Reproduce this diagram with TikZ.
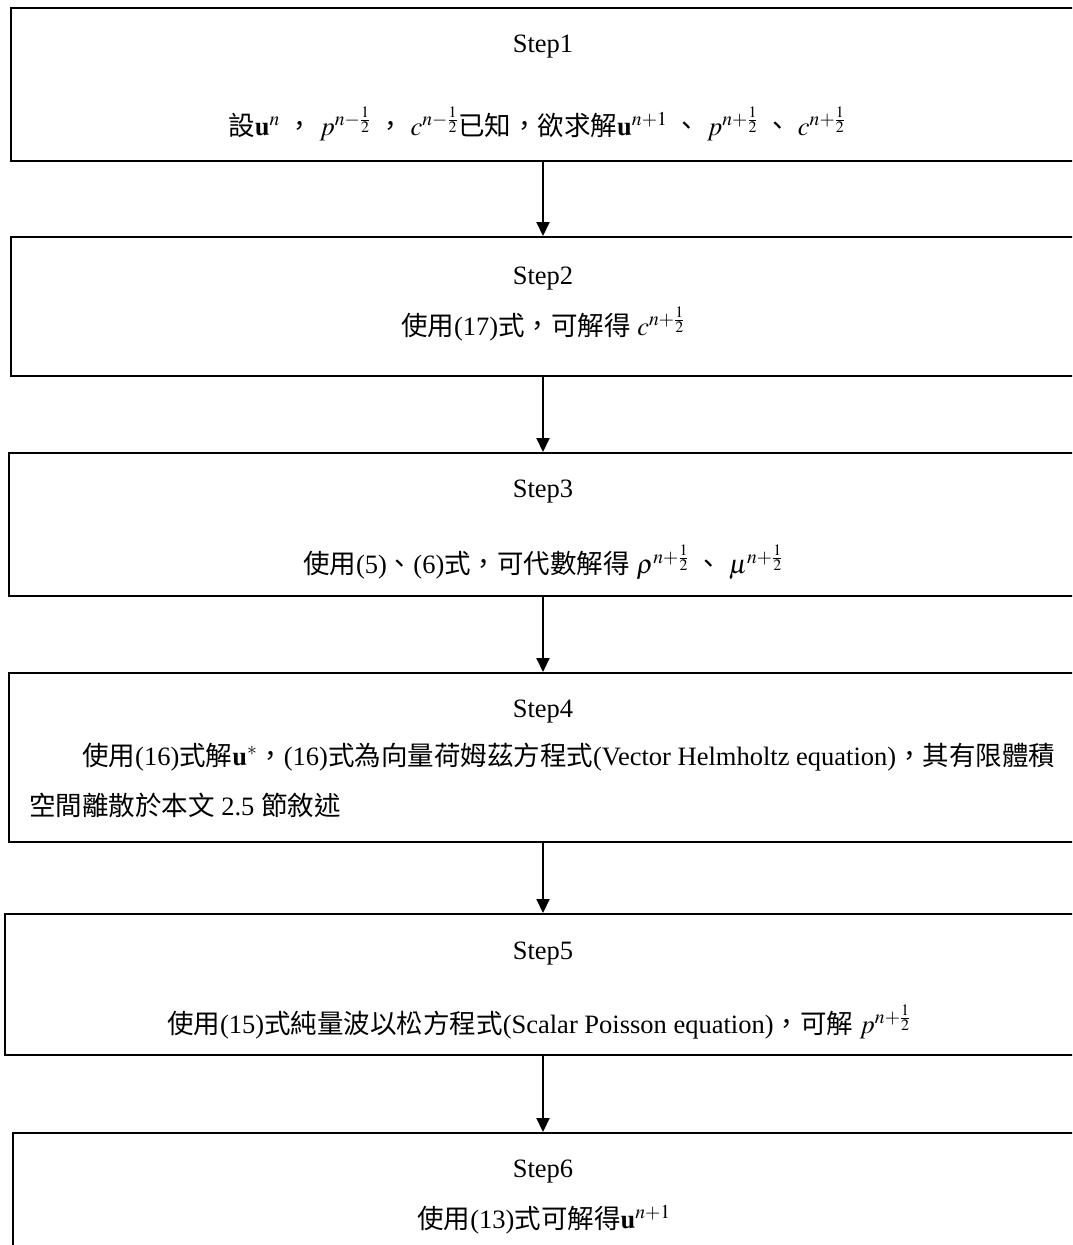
\documentclass[tikz,border=0pt]{standalone}
\usepackage{mathptmx}
\usepackage{fontspec}
\setmainfont{Liberation Serif}
\newfontfamily\cjk{Noto Sans CJK TC}
\usetikzlibrary{arrows.meta}
\newcommand{\C}[1]{{\cjk #1}}
\begin{document}
\begin{tikzpicture}[x=1pt,y=-1pt,
  box/.style={draw,line width=2pt,rectangle,inner sep=0pt,anchor=north west,minimum width=1070pt},
  lbl/.style={inner sep=0pt,anchor=base,font=\fontsize{26.5}{32}\selectfont},
  lblw/.style={inner sep=0pt,anchor=base west,font=\fontsize{26.5}{32}\selectfont},
  conn/.style={line width=2pt,-{Triangle[length=14pt,width=13pt]}}]
\clip (0,0) rectangle (1072,1245);
\fill[white] (0,0) rectangle (1072,1245);
% boxes
\node[box,minimum height=153pt] (b1) at (10,7) {};
\node[box,minimum height=139pt] (b2) at (10,236) {};
\node[box,minimum height=143pt] (b3) at (8,452) {};
\node[box,minimum height=169pt] (b4) at (8,672) {};
\node[box,minimum height=141pt] (b5) at (4,913) {};
\node[box,minimum height=200pt] (b6) at (12,1132) {};
% texts
\node[lbl] (s1) at (543,52) {Step1};
\node[lbl] (t1) at (537,135) {\C{設}$\mathbf{u}^{n}$ \C{，} $p^{n-\frac{1}{2}}$ \C{，} $c^{n-\frac{1}{2}}$\C{已知，欲求解}$\mathbf{u}^{n+1}$ \C{、} $p^{n+\frac{1}{2}}$ \C{、} $c^{n+\frac{1}{2}}$};
\node[lbl] (s2) at (543,284) {Step2};
\node[lbl] (t2) at (543,335) {\C{使用}(17)\C{式，可解得} $c^{n+\frac{1}{2}}$};
\node[lbl] (s3) at (543,497) {Step3};
\node[lbl] (t3) at (543,573) {\C{使用}(5)\C{、}(6)\C{式，可代數解得} $\rho^{n+\frac{1}{2}}$ \C{、} $\mu^{n+\frac{1}{2}}$};
\node[lbl] (s4) at (543,717) {Step4};
\node[lblw] (t4a) at (82,765) {\C{使用}(16)\C{式解}$\mathbf{u}^{*}$\C{，}(16)\C{式為向量荷姆茲方程式}(Vector Helmholtz equation)\C{，其有限體積}};
\node[lblw] (t4b) at (29,815) {\C{空間離散於本文} 2.5 \C{節敘述}};
\node[lbl] (s5) at (543,959) {Step5};
\node[lbl] (t5) at (539,1033) {\C{使用}(15)\C{式純量波以松方程式}(Scalar Poisson equation)\C{，可解} $p^{n+\frac{1}{2}}$};
\node[lbl] (s6) at (543,1177) {Step6};
\node[lbl] (t6) at (544,1228) {\C{使用}(13)\C{式可解得}$\mathbf{u}^{n+1}$};
% connectors
\coordinate (ax) at (543,0);
\draw[conn] (b1.south -| ax) -- (b2.north -| ax);
\draw[conn] (b2.south -| ax) -- (b3.north -| ax);
\draw[conn] (b3.south -| ax) -- (b4.north -| ax);
\draw[conn] (b4.south -| ax) -- (b5.north -| ax);
\draw[conn] (b5.south -| ax) -- (b6.north -| ax);
\end{tikzpicture}
\end{document}
